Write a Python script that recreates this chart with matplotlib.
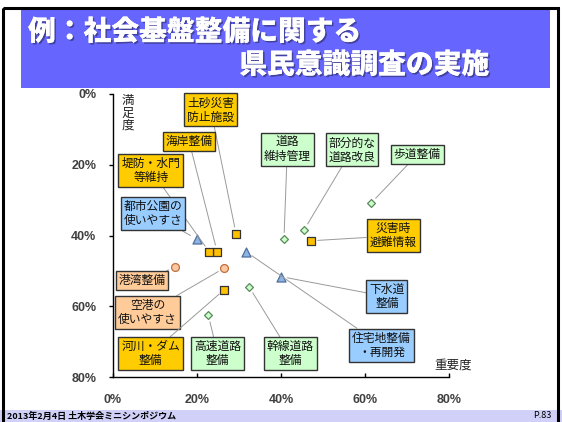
import matplotlib
matplotlib.use("Agg")
import matplotlib.pyplot as plt
import matplotlib.patheffects as pe
from matplotlib.patches import Rectangle

plt.rcParams['font.family'] = ['Noto Sans CJK JP', 'DejaVu Sans']

# ---------------- data ----------------
categories = ["土砂災害\n防止施設", "海岸整備", "堤防・水門\n等維持", "都市公園の\n使いやすさ",
              "道路\n維持管理", "部分的な\n道路改良", "歩道整備", "災害時\n避難情報",
              "港湾整備", "空港の\n使いやすさ", "河川・ダム\n整備", "高速道路\n整備",
              "幹線道路\n整備", "住宅地整備\n・再開発", "下水道\n整備"]
importance = [29.3, 24.8, 22.9, 19.9, 40.7, 45.5, 61.4, 47.1, 14.8, 26.5, 26.5, 22.7, 32.4, 31.7, 39.9]
satisfaction = [39.5, 44.6, 44.6, 41.0, 41.1, 38.4, 30.9, 41.5, 49.0, 49.2, 55.3, 62.5, 54.5, 44.6, 51.6]
groups = ["防災", "防災", "防災", "都市", "道路", "道路", "道路", "防災",
          "港空", "港空", "防災", "道路", "道路", "都市", "都市"]
x_ticks = [0, 20, 40, 60, 80]
y_ticks = [0, 20, 40, 60, 80]
tick_labels = ["0%", "20%", "40%", "60%", "80%"]

# ---------------- layout / styles ----------------
label_pos = [(23.3, 4.5), (18.1, 13.3), (9.0, 21.5), (9.5, 33.9),
             (41.5, 15.7), (56.9, 15.8), (72.4, 17.2), (66.7, 40.1),
             (6.9, 52.8), (8.2, 61.8), (9.0, 73.4), (24.9, 73.4),
             (42.2, 73.4), (63.9, 71.0), (65.2, 57.3)]
style = {
    "防災": dict(marker="s", mfc="#FFC000", mec="#333333", ms=36, box="#FFCC00"),
    "都市": dict(marker="^", mfc="#8DB4E2", mec="#4F6F9F", ms=42, box="#99CCFF"),
    "道路": dict(marker="D", mfc="#CCFFCC", mec="#5A8A5A", ms=16, box="#CCFFCC"),
    "港空": dict(marker="o", mfc="#FBC8A0", mec="#C07040", ms=32, box="#FFCC99"),
}

W, H = 562, 422
fig = plt.figure(figsize=(W / 100, H / 100), dpi=100)
fig.patch.set_facecolor("white")

# background decoration axes (pixel coordinates)
bg = fig.add_axes([0, 0, 1, 1])
bg.set_xlim(0, W)
bg.set_ylim(H, 0)
bg.axis("off")
bg.add_patch(Rectangle((0, 410), W, 14, facecolor="#D0D0F8", edgecolor="none"))
bg.add_patch(Rectangle((20.5, 9), 529, 78.5, facecolor="#6666FF", edgecolor="none"))
bg.add_patch(Rectangle((3, 8), 555, 420, facecolor="none", edgecolor="black", lw=2.2))
shadow = [pe.withSimplePatchShadow(offset=(1.2, -1.2), shadow_rgbFace="#333377", alpha=0.7), pe.Normal()]
bg.text(28, 32, "例：社会基盤整備に関する", color="white", fontsize=20, fontweight="heavy",
        ha="left", va="center", path_effects=shadow)
bg.text(489, 65, "県民意識調査の実施", color="white", fontsize=20, fontweight="heavy",
        ha="right", va="center", path_effects=shadow)
bg.text(7, 416, "2013年2月4日 土木学会ミニシンポジウム", fontsize=6.5, fontweight="bold",
        ha="left", va="center", color="black")
bg.text(551, 416, "P.83", fontsize=6.5, ha="right", va="center", color="black")

# main chart axes
ax = fig.add_axes([113 / W, 1 - 377 / H, 336 / W, 283 / H])
ax.patch.set_alpha(0)
ax.set_xlim(0, 80)
ax.set_ylim(80, 0)
for s in ["top", "right"]:
    ax.spines[s].set_visible(False)
ax.spines["left"].set_linewidth(1.0)
ax.spines["bottom"].set_linewidth(1.0)
ax.set_xticks(x_ticks)
ax.set_xticklabels(tick_labels)
ax.set_yticks(y_ticks)
ax.set_yticklabels(tick_labels)
ax.tick_params(axis="x", direction="in", length=3, width=1, pad=12, labelsize=9, labelcolor="#404040")
ax.tick_params(axis="y", direction="out", length=3, width=1, pad=9, labelsize=9, labelcolor="#404040")
for lab in ax.get_xticklabels() + ax.get_yticklabels():
    lab.set_fontfamily(["Liberation Sans", "DejaVu Sans"])
    lab.set_fontweight("bold")

ax.text(0.045, 1.0, "満\n足\n度", transform=ax.transAxes, fontsize=9, ha="center", va="top",
        linespacing=0.95, color="#222222")
ax.text(1.068, 0.042, "重要度", transform=ax.transAxes, fontsize=9, ha="right", va="center",
        color="#222222")

for name, xv, yv, g, (lx, ly) in zip(categories, importance, satisfaction, groups, label_pos):
    st = style[g]
    ax.scatter([xv], [yv], marker=st["marker"], s=st["ms"], facecolor=st["mfc"],
               edgecolor=st["mec"], linewidth=0.9, zorder=4, clip_on=False)
    ax.annotate(name, xy=(xv, yv), xytext=(lx, ly), fontsize=8.5, ha="center", va="center",
                linespacing=1.1, color="#111111", zorder=5, annotation_clip=False,
                bbox=dict(boxstyle="square,pad=0.25", facecolor=st["box"], edgecolor="#333333", lw=1.0),
                arrowprops=dict(arrowstyle="-", color="#9a9a9a", lw=0.7, shrinkA=0, shrinkB=5))

fig.savefig("out.png", dpi=100)
